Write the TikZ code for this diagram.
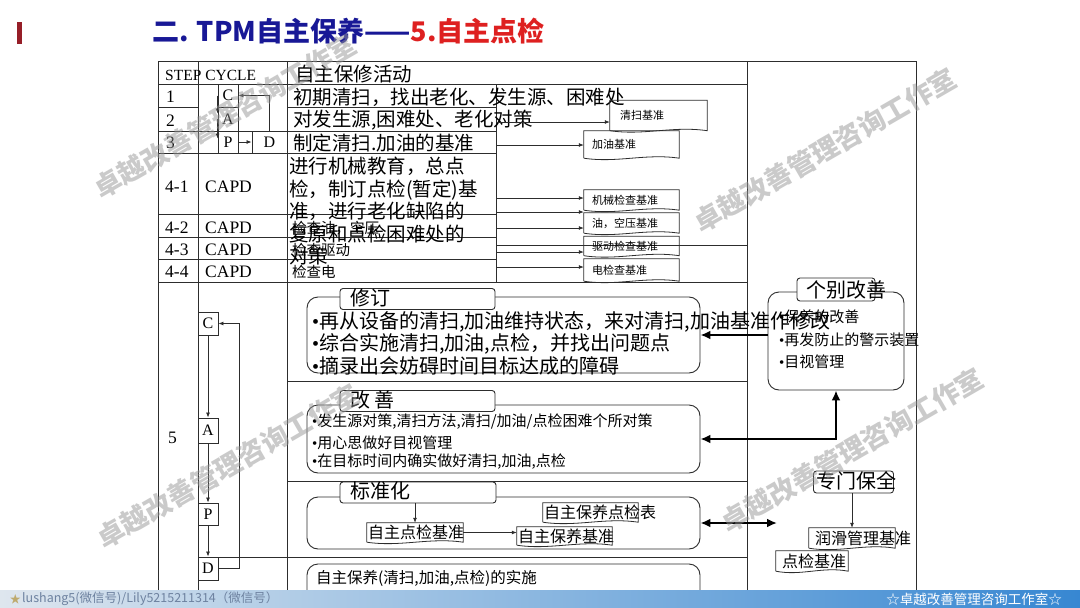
\documentclass[tikz,border=0pt]{standalone}
\usepackage{fontspec}
\setmainfont{Noto Sans CJK SC}
\newfontfamily\tnr{Liberation Serif}
\usetikzlibrary{arrows.meta,calc,positioning}
\definecolor{ttlblue}{RGB}{24,24,150}
\definecolor{ttlred}{RGB}{222,32,32}
\definecolor{barred}{RGB}{150,30,40}
\definecolor{lnclr}{RGB}{45,45,45}
\definecolor{wmgray}{RGB}{150,150,150}
\definecolor{footl}{RGB}{222,230,238}
\definecolor{footm}{RGB}{110,170,225}
\definecolor{footr}{RGB}{55,135,210}
\definecolor{foottx}{RGB}{110,130,160}
\definecolor{starclr}{RGB}{190,170,110}

% narrow bullet
\newcommand{\bl}{{\tnr •}}
% document-shaped outline round an (empty) node
\newcommand{\docshape}[1]{%
  \draw[draw=lnclr, line width=0.8pt] (#1.south west) -- (#1.north west) -- (#1.north east) -- (#1.south east)
    .. controls ($(#1.south east)!0.35!(#1.south west)+(0,-5)$) and ($(#1.south east)!0.65!(#1.south west)+(0,5)$) .. (#1.south west);}

\begin{document}
\begin{tikzpicture}[x=1pt, y=-1pt,
    tline/.style={draw=lnclr, line width=0.9pt},
    lbl/.style={anchor=west, inner sep=0, font=\tnr\fontsize{17.5}{17.5}\selectfont},
    cyc/.style={draw=lnclr, line width=0.9pt, inner sep=0, minimum width=20pt, minimum height=23pt, font=\tnr\fontsize{16}{16}\selectfont},
    act/.style={anchor=west, inner sep=0, font=\fontsize{19.5}{22.5}\selectfont},
    smtxt/.style={anchor=west, inner sep=0, font=\fontsize{14.5}{14.5}\selectfont},
    doc/.style={inner sep=0, minimum width=95pt, minimum height=20pt},
    doctext/.style={anchor=west, inner sep=0, font=\fontsize{11}{11}\selectfont},
    t16/.style={anchor=west, inner sep=0, font=\fontsize{16}{16}\selectfont},
    secbox/.style={draw=lnclr, line width=0.9pt, rounded corners=11pt, inner sep=0},
    tabbox/.style={draw=lnclr, line width=0.9pt, rounded corners=3pt, fill=white, inner sep=0, minimum height=21pt},
    tabtext/.style={anchor=west, inner sep=0, font=\fontsize{20}{20}\selectfont},
    bul/.style={anchor=west, inner sep=0, font=\fontsize{20}{20}\selectfont},
    bulsm/.style={anchor=west, inner sep=0, font=\fontsize{15}{15}\selectfont},
    arr/.style={draw=lnclr, line width=0.8pt, -{Latex[length=5pt,width=4pt]}},
    bigarr/.style={line width=2.4pt, -{Latex[length=10pt,width=9pt]}},
    dblarr/.style={line width=2.4pt, {Latex[length=10pt,width=9pt]}-{Latex[length=10pt,width=9pt]}},
    wmark/.style={rotate=30, inner sep=0, text=wmgray, opacity=0.5, font=\bfseries\fontsize{27}{27}\selectfont}
  ]
  \useasboundingbox (0,0) rectangle (1080,608);
  \fill[white] (0,0) rectangle (1080,608);

  % title
  \fill[barred] (17,22) rectangle (22,44);
  \node[anchor=west, inner sep=0, font=\bfseries\fontsize{27}{27}\selectfont] (ttl) at (152,31)
    {\textcolor{ttlblue}{二. TPM自主保养——}\textcolor{ttlred}{5.自主点检}};

  % table frame
  \draw[tline] (158,61) rectangle (916,590);
  \draw[tline] (747,61) -- (747,590);
  \draw[tline] (198,61) -- (198,590);
  \draw[tline] (287,61) -- (287,590);
  \draw[tline] (158,84) -- (747,84);
  \draw[tline] (496,84) -- (496,282);
  \draw[tline] (158,107) -- (198,107);
  \draw[tline] (158,131) -- (287,131);
  \draw[tline] (287,107) -- (496,107);
  \draw[tline] (287,131) -- (496,131);
  \foreach \yy in {153,214,237,259}
    \draw[tline] (158,\yy) -- (496,\yy);
  \draw[tline] (158,282) -- (747,282);
  \draw[tline] (496,245) -- (747,245);
  \draw[tline] (287,381) -- (747,381);
  \draw[tline] (287,481) -- (747,481);
  \draw[tline] (198,557) -- (747,557);

  % header and step labels
  \node[anchor=west, inner sep=0, font=\tnr\fontsize{15.5}{15.5}\selectfont] (hstep) at (165,75) {STEP CYCLE};
  \node[act] (hact) at (295,74) {自主保修活动};
  \foreach \nm/\yy/\tx in {s1/97/1, s2/121/2, s3/143/3}
    \node[lbl] (\nm) at (166,\yy) {\tx};
  \foreach \nm/\yy/\tx in {s41/187/4-1, s42/228/4-2, s43/250/4-3, s44/272/4-4} {
    \node[lbl] (\nm) at (165,\yy) {\tx};
    \node[lbl] (c\nm) at (205,\yy) {CAPD};
  }
  \node[lbl] (s5) at (168,438) {5};

  % cycle, steps 1-3
  \node[cyc] (c1) at (228,95.5) {C};
  \node[cyc, minimum height=24pt] (a1) at (228,119) {A};
  \node[cyc, minimum height=22pt] (p1) at (228,142) {P};
  \node[cyc, minimum width=35pt, minimum height=22pt] (d1) at (269.5,142) {D};
  \draw[arr] (c1.west) -- ([yshift=-7pt]a1.north west);
  \draw[arr] (a1.west) -- ([yshift=-8pt]p1.north west);
  \draw[arr] (p1.east) -- (d1.west);
  \draw[arr] (d1.north) |- (c1.east);

  % cycle, step 5
  \node[cyc] (c5) at (208,323.5) {C};
  \node[cyc, minimum height=25pt] (a5) at (208,430.5) {A};
  \node[cyc, minimum height=22pt] (p5) at (208,514) {P};
  \node[cyc] (d5) at (208,568.5) {D};
  \draw[arr] (c5) -- (a5);
  \draw[arr] (a5) -- (p5);
  \draw[arr] (p5) -- (d5);
  \draw[arr] (d5.east) -| ([xshift=21pt]c5.east) -- (c5.east);

  % activities 1-4
  \node[act] (r1) at (293,97) {初期清扫，找出老化、发生源、困难处};
  \node[act] (r2) at (293,120) {对发生源,困难处、老化对策};
  \node[act] (r3) at (293,143) {制定清扫.加油的基准};
  \node[act, anchor=north west, align=left] (r4) at (289,157)
    {进行机械教育，总点\\检，制订点检(暂定)基\\准，进行老化缺陷的\\复原和点检困难处的\\对策};
  \node[smtxt] (k2) at (292,228) {检查油，空压};
  \node[smtxt] (k3) at (292,250) {检查驱动};
  \node[smtxt] (k4) at (292,272) {检查电};

  % standards
  \node[doc, minimum width=97pt, minimum height=30pt] (qs) at (658.5,115.5) {};
  \node[doc, minimum height=27pt] (jy) at (631.5,144.5) {};
  \node[doc] (jx) at (631.5,200) {};
  \node[doc] (yk) at (631.5,223) {};
  \node[doc, minimum height=19pt] (qd) at (631.5,246) {};
  \node[doc, minimum height=22pt] (dj) at (631.5,270) {};
  \node[doctext] (qst) at ([xshift=10pt]qs.west) {清扫基准};
  \node[doctext] (jyt) at ([xshift=8pt]jy.west) {加油基准};
  \node[doctext] (jxt) at ([xshift=8pt]jx.west) {机械检查基准};
  \node[doctext] (ykt) at ([xshift=8pt]yk.west) {油，空压基准};
  \node[doctext] (qdt) at ([xshift=8pt]qd.west) {驱动检查基准};
  \node[doctext] (djt) at ([xshift=8pt]dj.west) {电检查基准};
  \foreach \bx in {qs,jy,jx,yk,qd,dj} {\docshape{\bx}}
  \foreach \yy/\bx in {122/qs,145/jy,198/jx,212/jx,228/yk,252/qd,267/dj} {
    \coordinate (src) at (496,\yy);
    \draw[arr] (src) -- (src -| \bx.west);
  }

  % step 5: revise
  \node[secbox, minimum width=393pt, minimum height=76pt] (xiud) at (503.5,335) {};
  \node[tabbox, minimum width=155pt] (xiudt) at (417.5,299) {};
  \node[tabtext] (xiudl) at (350,298) {修订};
  \node[bul] (xb1) at (312,322) {\bl 再从设备的清扫,加油维持状态，来对清扫,加油基准作修改};
  \node[bul] (xb2) at (312,344) {\bl 综合实施清扫,加油,点检，并找出问题点};
  \node[bul] (xb3) at (312,366) {\bl 摘录出会妨碍时间目标达成的障碍};

  % step 5: improve
  \node[secbox, minimum width=393pt, minimum height=68pt] (gais) at (503.5,439) {};
  \node[tabbox, minimum width=155pt] (gaist) at (417.5,401) {};
  \node[tabtext] (gaisl) at (350,400) {改 善};
  \node[bulsm] (gb1) at (312,422) {\bl 发生源对策,清扫方法,清扫/加油/点检困难个所对策};
  \node[bulsm] (gb2) at (312,443) {\bl 用心思做好目视管理};
  \node[bulsm] (gb3) at (312,462) {\bl 在目标时间内确实做好清扫,加油,点检};

  % step 5: standardise
  \node[secbox, minimum width=393pt, minimum height=52pt] (bzh) at (503.5,523) {};
  \node[tabbox, minimum width=156pt] (bzht) at (418,492.5) {};
  \node[tabtext] (bzhl) at (350,491) {标准化};
  \node[doc, minimum width=96pt, minimum height=19pt] (zjjz) at (415,532.5) {};
  \node[t16] (zjjzt) at ([xshift=1pt]zjjz.west) {自主点检基准};
  \node[doc, minimum height=18pt] (zbjz) at (564.5,536) {};
  \node[t16] (zbjzt) at ([xshift=1pt]zbjz.west) {自主保养基准};
  \node[doc, minimum height=19pt] (zbdj) at (590.5,512.5) {};
  \node[t16] (zbdjt) at ([xshift=1pt]zbdj.west) {自主保养点检表};
  \foreach \bx in {zjjz,zbjz,zbdj} {\docshape{\bx}}
  \draw[arr] (bzht.south -| zjjz.north) -- (zjjz.north);
  \draw[arr] (zjjz.east) -- (zjjz.east -| zbjz.west);

  % step 5: carry out
  \node[secbox, minimum width=393pt, minimum height=40pt] (shis) at (503.5,584) {};
  \node[anchor=west, inner sep=0, font=\fontsize{15.5}{15.5}\selectfont] (shist) at (316,578) {自主保养(清扫,加油,点检)的实施};

  % right column
  \node[secbox, minimum width=136pt, minimum height=98pt] (gebie) at (836,341) {};
  \node[tabbox, minimum width=78pt, minimum height=23pt] (gebiet) at (836,289.5) {};
  \node[tabtext] (gebiel) at (806,290) {个别改善};
  \node[bulsm] (gbb1) at (779,317) {\bl 保养的改善};
  \node[bulsm] (gbb2) at (779,340) {\bl 再发防止的警示装置};
  \node[bulsm] (gbb3) at (779,362) {\bl 目视管理};
  \draw[bigarr] (xiud.east -| gebie.west) -- (xiud.east);
  \draw[dblarr] (gebie.south) |- (gais.east);

  \node[tabbox, minimum width=80pt, minimum height=22pt] (zmbq) at (853.5,482) {};
  \node[tabtext] (zmbql) at (816,481) {专门保全};
  \node[doc, minimum width=86pt] (rhgl) at (852,538) {};
  \node[t16] (rhglt) at ([xshift=6pt]rhgl.west) {润滑管理基准};
  \node[doc, minimum width=72pt] (djjz) at (812,561) {};
  \node[t16] (djjzt) at ([xshift=6pt]djjz.west) {点检基准};
  \foreach \bx in {rhgl,djjz} {\docshape{\bx}}
  \draw[arr] (zmbq.south -| rhgl.north) -- (rhgl.north);
  \coordinate (zmq) at (777,524);
  \draw[dblarr] (bzh.east) -- (bzh.east -| zmq);

  % footer
  \shade[left color=footl, middle color=footm, right color=footr] (0,590.5) rectangle (1080,608);
  \node[anchor=west, inner sep=0, text=foottx, font=\fontsize{12.5}{12.5}\selectfont] (ftl) at (22,599) {lushang5(微信号)/Lily5215211314（微信号）};
  \node[anchor=east, inner sep=1pt, text=starclr, font=\fontsize{11}{11}\selectfont] (fst) at (ftl.west) {★};
  \node[anchor=east, inner sep=0, text=white, font=\fontsize{13.5}{13.5}\selectfont] (ftr) at (1062,599) {☆卓越改善管理咨询工作室☆};

  % watermarks
  \foreach \wx/\wy [count=\i] in {225/116, 825/150, 228/466, 852/450}
    \node[wmark] (wm\i) at (\wx,\wy) {卓越改善管理咨询工作室};
\end{tikzpicture}
\end{document}
